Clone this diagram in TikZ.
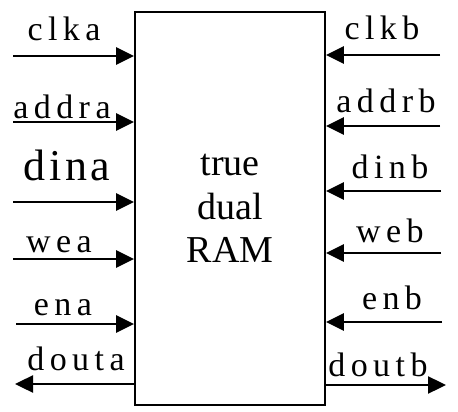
\documentclass[tikz,border=0pt]{standalone}
\usepackage{fontspec}
\setmainfont{Liberation Serif}
\newfontfamily\sigfont{Liberation Serif}[LetterSpace=16]
\newfontfamily\bigsigfont{Liberation Serif}[LetterSpace=8]
\usetikzlibrary{arrows.meta}

\begin{document}
\begin{tikzpicture}[x=1pt, y=-1pt,
    sig/.style = {line width=2.4pt, -{Triangle[length=18pt, width=17pt]}},
    lbl/.style = {anchor=base, inner sep=0pt, font=\sigfont\fontsize{34}{34}\selectfont},
    bigLbl/.style = {lbl, font=\bigsigfont\fontsize{44}{44}\selectfont}]
\useasboundingbox (0,0) rectangle (458,412);
\node[draw, line width=1.8pt, minimum width=190pt, minimum height=393pt, align=center,
      font=\fontsize{38}{43.5}\selectfont] (ram) at (230,208.5)
      {true\\dual\\RAM};

% port A (left side)
\coordinate (clka) at (13,56);
\coordinate (addra) at (13,122);
\coordinate (dina) at (13,202);
\coordinate (wea) at (13,259);
\coordinate (ena) at (16,324);
\coordinate (douta) at (15,384);
\draw[sig] (clka) -- (clka -| ram.west);
\draw[sig] (addra) -- (addra -| ram.west);
\draw[sig] (dina) -- (dina -| ram.west);
\draw[sig] (wea) -- (wea -| ram.west);
\draw[sig] (ena) -- (ena -| ram.west);
\draw[sig] (douta -| ram.west) -- (douta);
\node[lbl] (clkaTxt) at (64,41) {clka};
\node[lbl] (addraTxt) at (62,118) {addra};
\node[bigLbl] (dinaTxt) at (67,180) {dina};
\node[lbl] (weaTxt) at (59,252) {wea};
\node[lbl] (enaTxt) at (63,315) {ena};
\node[lbl] (doutaTxt) at (76,370) {douta};

% port B (right side)
\coordinate (clkb) at (440,55);
\coordinate (addrb) at (440,126);
\coordinate (dinb) at (441,191);
\coordinate (web) at (441,253);
\coordinate (enb) at (442,322);
\coordinate (doutb) at (446,385);
\draw[sig] (clkb) -- (clkb -| ram.east);
\draw[sig] (addrb) -- (addrb -| ram.east);
\draw[sig] (dinb) -- (dinb -| ram.east);
\draw[sig] (web) -- (web -| ram.east);
\draw[sig] (enb) -- (enb -| ram.east);
\draw[sig] (doutb -| ram.east) -- (doutb);
\node[lbl] (clkbTxt) at (382,40) {clkb};
\node[lbl] (addrbTxt) at (386,113) {addrb};
\node[lbl] (dinbTxt) at (390,178) {dinb};
\node[lbl] (webTxt) at (390,242) {web};
\node[lbl] (enbTxt) at (392,309) {enb};
\node[lbl] (doutbTxt) at (378,376) {doutb};
\end{tikzpicture}
\end{document}
